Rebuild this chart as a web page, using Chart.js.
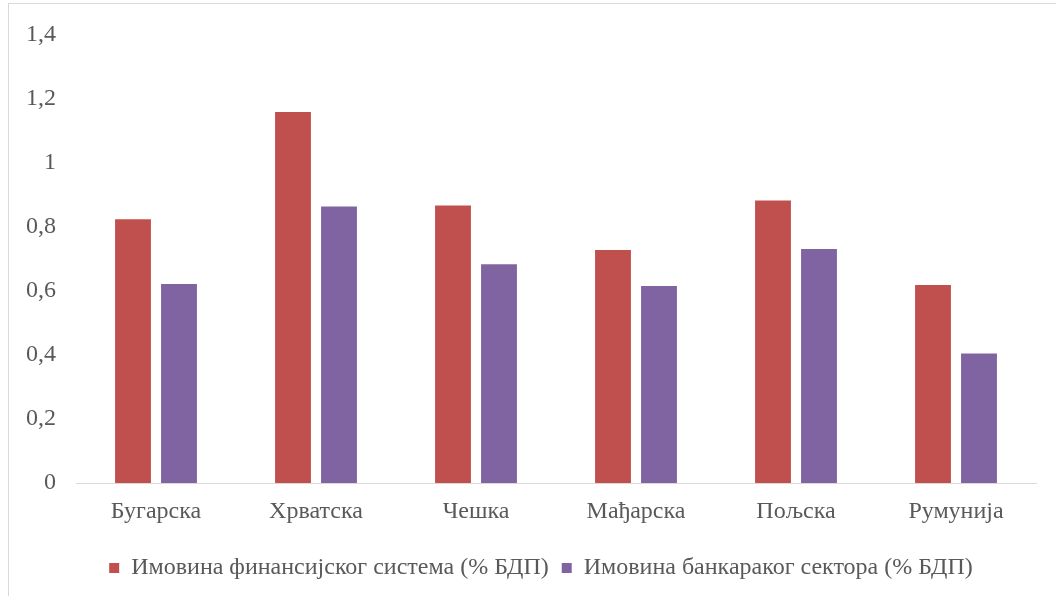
<!DOCTYPE html>
<html>
<head>
<meta charset="utf-8">
<script src="https://cdn.jsdelivr.net/npm/chart.js@4.4.0/dist/chart.umd.min.js"></script>
<style>
  html, body { margin: 0; padding: 0; background: #fff; }
  #wrap { position: relative; width: 1056px; height: 596px; overflow: hidden; }
  #frame { position: absolute; left: 8px; top: 3px; width: 1200px; height: 800px; border: 1px solid #d9d9d9; box-sizing: border-box; }
  #c { position: absolute; left: 0; top: 0; }
</style>
</head>
<body>
<div id="wrap">
  <div id="frame"></div>
  <canvas id="c" width="1056" height="596"></canvas>
</div>
<script>
// земље
var countries = ['Бугарска', 'Хрватска', 'Чешка', 'Мађарска', 'Пољска', 'Румунија'];
var finSystem = [0.823, 1.158, 0.866, 0.727, 0.882, 0.618];
var bankSector = [0.621, 0.863, 0.683, 0.615, 0.730, 0.404];
var seriesNames = ['Имовина финансијског система (% БДП)', 'Имовина банкараког сектора (% БДП)'];
var yTicks = [0, 0.2, 0.4, 0.6, 0.8, 1, 1.2, 1.4];

const txt = '#595959';
const fnt = { family: "'Liberation Serif', 'Times New Roman', serif", size: 24 };

// legenda malo udesno, kao u originalu
const shiftLegend = {
  id: 'shiftLegend',
  afterLayout: function(c) {
    if (c.legend) { c.legend.left += 23; c.legend.right += 23; }
  }
};

var ctx = document.getElementById('c').getContext('2d');
var chart = new Chart(ctx, {
  type: 'bar',
  data: {
    labels: countries,
    datasets: [{
      label: seriesNames[0],
      data: finSystem,
      backgroundColor: '#C0504D',
      borderWidth: 0
    }, {
      label: seriesNames[1],
      data: bankSector,
      backgroundColor: '#8064A2',
      borderWidth: 0
    }]
  },
  plugins: [shiftLegend],
  options: {
    responsive: false,
    animation: false,
    categoryPercentage: 0.575,
    barPercentage: 0.78,
    layout: { padding: { left: 0, right: 20, top: 32, bottom: 6 } },
    plugins: {
      tooltip: { enabled: false },
      legend: {
        position: 'bottom',
        labels: {
          color: txt,
          font: fnt,
          boxWidth: 10,
          boxHeight: 10,
          padding: 13
        }
      }
    },
    scales: {
      x: {
        grid: { display: false, drawTicks: false },
        border: { display: true, color: '#d9d9d9', width: 1 },
        ticks: { color: txt, font: fnt, padding: 14 },
        afterFit: function(s) { s.height = 60; }
      },
      y: {
        min: 0,
        max: 1.4,
        afterBuildTicks: function(s) { s.ticks = yTicks.map(v => ({ value: v })); },
        afterFit: function(s) { s.width = 76; },
        grid: { display: false, drawTicks: false },
        border: { display: false },
        ticks: {
          color: txt,
          font: fnt,
          padding: 20,
          callback: function(v) { return String(Math.round(v * 10) / 10).replace('.', ','); }
        }
      }
    }
  }
});
</script>
</body>
</html>
